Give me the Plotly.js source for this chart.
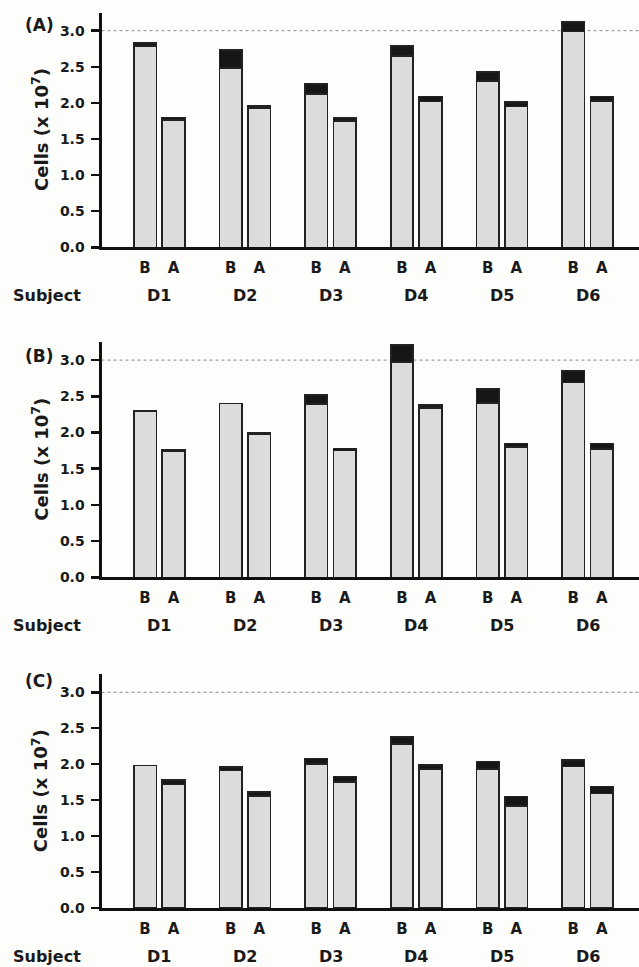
<!DOCTYPE html>
<html>
<head>
<meta charset="utf-8">
<script src="https://cdn.plot.ly/plotly-3.0.1.min.js"></script>
<style>
  html, body { margin: 0; padding: 0; background: #fdfdfc; }
  #chart { width: 639px; height: 967px; }
</style>
</head>
<body>
<div id="chart"></div>
<script>
// Subjects and the two conditions shown for each (B = before, A = after)
const subjects = ['D1', 'D2', 'D3', 'D4', 'D5', 'D6'];
const conditions = ['B', 'A'];
const panelLabels = ['(A)', '(B)', '(C)'];
const yTickVals = [0, 0.5, 1, 1.5, 2, 2.5, 3];
const yTickText = ['0.0', '0.5', '1.0', '1.5', '2.0', '2.5', '3.0'];

// Panel (A): grey base and black top segment (cells x 10^7)
const panelA_baseB = [2.79, 2.48, 2.12, 2.65, 2.30, 2.99];
const panelA_topB  = [0.04, 0.25, 0.14, 0.14, 0.13, 0.13];
const panelA_baseA = [1.76, 1.93, 1.75, 2.02, 1.95, 2.03];
const panelA_topA  = [0.04, 0.03, 0.04, 0.07, 0.06, 0.06];

// Panel (B)
const panelB_baseB = [2.30, 2.40, 2.39, 2.97, 2.41, 2.69];
const panelB_topB  = [0.00, 0.00, 0.13, 0.24, 0.19, 0.16];
const panelB_baseA = [1.74, 1.97, 1.75, 2.34, 1.80, 1.77];
const panelB_topA  = [0.02, 0.02, 0.03, 0.04, 0.05, 0.08];

// Panel (C)
const panelC_baseB = [1.98, 1.91, 2.00, 2.28, 1.93, 1.97];
const panelC_topB  = [0.00, 0.05, 0.08, 0.10, 0.11, 0.09];
const panelC_baseA = [1.72, 1.56, 1.75, 1.93, 1.42, 1.59];
const panelC_topA  = [0.06, 0.05, 0.08, 0.06, 0.13, 0.10];

const panels = [
  { baseB: panelA_baseB, topB: panelA_topB, baseA: panelA_baseA, topA: panelA_topA },
  { baseB: panelB_baseB, topB: panelB_topB, baseA: panelB_baseA, topA: panelB_topA },
  { baseB: panelC_baseB, topB: panelC_topB, baseA: panelC_baseA, topA: panelC_topA }
];

const W = 639, H = 967;
const FONT = 'DejaVu Sans, Arial, sans-serif';
const INK = '#1a1a1a';
const GREY = '#dcdcdc', DARK = '#161616', EDGE = '#222222';

// Bar slots: B at 3*i, A at 3*i + 1
const xPos = [], xText = [];
subjects.forEach((s, i) => {
  conditions.forEach((c, j) => { xPos.push(3 * i + j); xText.push(c); });
});
function interleave(b, a) {
  const out = [];
  b.forEach((v, i) => { out.push(v, a[i]); });
  return out;
}

// Pixel geometry of the three panels (zero line, top of axis, panel letter)
const frames = [
  { y0: 247.3, yTop: 12.6, label: 25.0 },
  { y0: 577.3, yTop: 342.0, label: 356.0 },
  { y0: 908.0, yTop: 674.3, label: 681.0 }
];
const xLeftPx = 101.5;
const xRange = [-1.524, 17.30];

const traces = [];
const layout = {
  width: W, height: H,
  margin: { l: 0, r: 0, t: 0, b: 0 },
  paper_bgcolor: '#fdfdfc',
  plot_bgcolor: 'rgba(0,0,0,0)',
  barmode: 'stack',
  bargap: 0,
  showlegend: false,
  font: { family: FONT, color: INK },
  annotations: [],
  shapes: []
};

panels.forEach((p, k) => {
  const sfx = k === 0 ? '' : String(k + 1);
  const xa = 'x' + sfx, ya = 'y' + sfx;
  const f = frames[k];
  const marker = (fill) => ({ color: fill, line: { color: EDGE, width: 1.6 } });
  traces.push({
    type: 'bar', x: xPos, y: interleave(p.baseB, p.baseA), width: 0.79,
    xaxis: xa, yaxis: ya, marker: marker(GREY), hoverinfo: 'y'
  });
  traces.push({
    type: 'bar', x: xPos, y: interleave(p.topB, p.topA), width: 0.79,
    xaxis: xa, yaxis: ya, marker: marker(DARK), hoverinfo: 'y'
  });

  layout['xaxis' + sfx] = {
    domain: [xLeftPx / W, 1], range: xRange, anchor: ya,
    showgrid: false, zeroline: false,
    showline: true, linecolor: '#111', linewidth: 3,
    tickmode: 'array', tickvals: xPos, ticktext: xText,
    ticks: 'outside', ticklen: 5, tickcolor: 'rgba(0,0,0,0)',
    tickfont: { family: FONT, size: 15, color: INK, weight: 'bold' },
    fixedrange: true
  };
  layout['yaxis' + sfx] = {
    domain: [1 - f.y0 / H, 1 - f.yTop / H], range: [0, 3.25], anchor: xa,
    showgrid: false, zeroline: false,
    showline: true, linecolor: '#111', linewidth: 3,
    tickmode: 'array', tickvals: yTickVals, ticktext: yTickText,
    ticks: 'outside', ticklen: 8, tickwidth: 2.5, tickcolor: '#111',
    ticklabelstandoff: 3,
    tickfont: { family: FONT, size: 14, color: INK, weight: 'bold' },
    fixedrange: true
  };

  // dotted reference line at 3.0
  layout.shapes.push({
    type: 'line', xref: xa + ' domain', yref: ya, x0: 0, x1: 1, y0: 3, y1: 3,
    line: { color: '#8a8a8a', width: 1, dash: 'dot' }, layer: 'below'
  });

  // y-axis title
  layout.annotations.push({
    xref: 'paper', yref: 'paper', x: 40 / W, y: 1 - ((f.y0 + f.yTop) / 2) / H,
    text: 'Cells (x 10<sup>7</sup>)', textangle: -90, showarrow: false,
    xanchor: 'center', yanchor: 'middle',
    font: { family: FONT, size: 18, color: INK, weight: 'bold' }
  });
  // panel letter
  layout.annotations.push({
    xref: 'paper', yref: 'paper', x: 39 / W, y: 1 - f.label / H,
    text: panelLabels[k], showarrow: false, xanchor: 'center', yanchor: 'middle',
    font: { family: FONT, size: 17, color: INK, weight: 'bold' }
  });
  // "Subject" row label
  layout.annotations.push({
    xref: 'paper', yref: 'paper', x: 11 / W, y: 1 - (f.y0 + 48) / H,
    text: 'Subject', showarrow: false, xanchor: 'left', yanchor: 'middle',
    font: { family: FONT, size: 16, color: INK, weight: 'bold' }
  });
  // subject names centred under each B/A pair
  subjects.forEach((s, i) => {
    layout.annotations.push({
      xref: xa, yref: 'paper', x: 3 * i + 0.5, y: 1 - (f.y0 + 48) / H,
      text: s, showarrow: false, xanchor: 'center', yanchor: 'middle',
      font: { family: FONT, size: 16, color: INK, weight: 'bold' }
    });
  });
});

Plotly.newPlot('chart', traces, layout, { displayModeBar: false, staticPlot: true });
</script>
</body>
</html>
